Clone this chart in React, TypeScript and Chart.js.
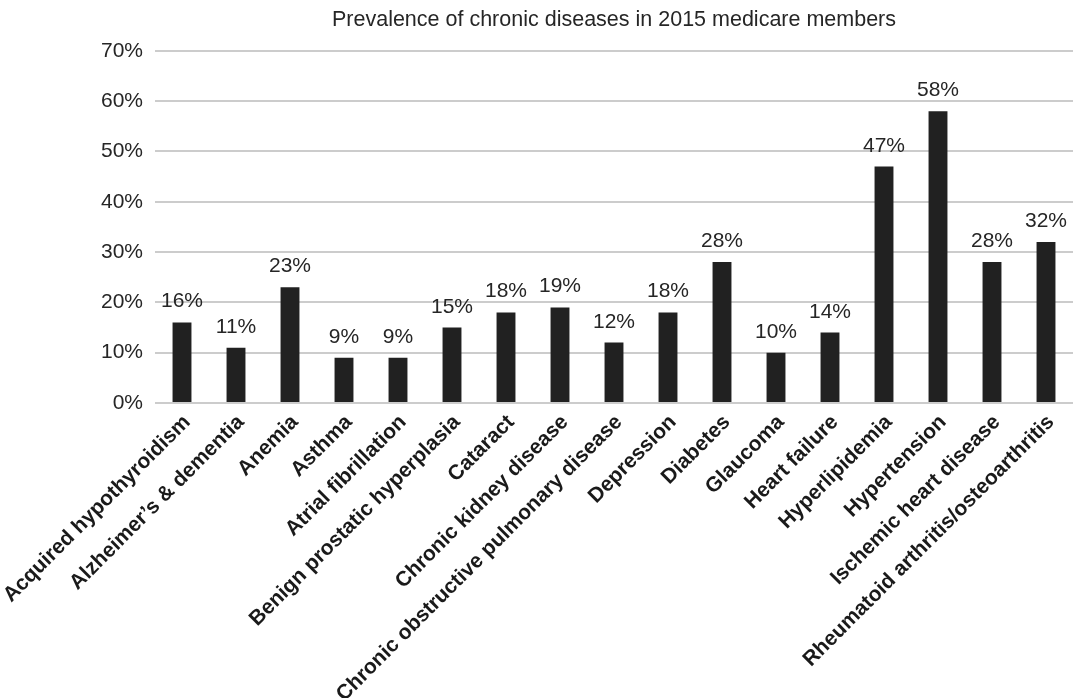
import React, { useEffect, useRef } from 'react';
import { Chart, registerables } from 'chart.js';

Chart.register(...registerables);

const titleText = 'Prevalence of chronic diseases in 2015 medicare members';

const categories = [
  'Acquired hypothyroidism',
  'Alzheimer\u2019s & dementia',
  'Anemia',
  'Asthma',
  'Atrial fibrillation',
  'Benign prostatic hyperplasia',
  'Cataract',
  'Chronic kidney disease',
  'Chronic obstructive pulmonary disease',
  'Depression',
  'Diabetes',
  'Glaucoma',
  'Heart failure',
  'Hyperlipidemia',
  'Hypertension',
  'Ischemic heart disease',
  'Rheumatoid arthritis/osteoarthritis',
];

const prevalence = [16, 11, 23, 9, 9, 15, 18, 19, 12, 18, 28, 10, 14, 47, 58, 28, 32];

const yMin = 0;
const yMax = 70;
const yStep = 10;

const FONT = '"Liberation Sans", Arial, Helvetica, sans-serif';

const valueLabels = {
  id: 'valueLabels',
  afterDatasetsDraw(chart: any) {
    const ctx = chart.ctx;
    const meta = chart.getDatasetMeta(0);
    ctx.save();
    ctx.font = `21px ${FONT}`;
    ctx.fillStyle = '#262626';
    ctx.textAlign = 'center';
    ctx.textBaseline = 'alphabetic';
    meta.data.forEach((bar: any, i: number) => {
      ctx.fillText(prevalence[i] + '%', bar.x, bar.y - 15);
    });
    ctx.restore();
  },
};

export default function App() {
  const canvasRef = useRef<HTMLCanvasElement | null>(null);

  useEffect(() => {
    if (!canvasRef.current) return;
    const chart = new Chart(canvasRef.current, {
      type: 'bar',
      data: {
        labels: categories,
        datasets: [
          {
            data: prevalence,
            backgroundColor: '#212121',
            borderWidth: 0,
            barPercentage: 0.7,
            categoryPercentage: 0.5,
          },
        ],
      },
      options: {
        responsive: true,
        maintainAspectRatio: false,
        animation: false,
        layout: { padding: { top: 0, right: 3, left: 0, bottom: 0 } },
        plugins: {
          legend: { display: false },
          tooltip: { enabled: false },
          title: {
            display: true,
            fullSize: false,
            text: titleText,
            color: '#262626',
            font: { family: FONT, size: 21.5, weight: 'normal' },
            padding: { top: 7, bottom: 18 },
          },
        },
        scales: {
          x: {
            grid: { display: false, drawTicks: false },
            border: { display: false },
            ticks: {
              autoSkip: false,
              maxRotation: 45,
              minRotation: 45,
              color: '#1a1a1a',
              font: { family: FONT, size: 21, weight: 'bold' },
              padding: 7,
              labelOffset: 5,
            },
            afterFit: (scale: any) => {
              scale.height = 295;
              scale.paddingLeft = 0;
              scale.paddingRight = 0;
            },
          },
          y: {
            min: yMin,
            max: yMax,
            grid: { color: '#cccccc', lineWidth: 2, drawTicks: false },
            border: { display: false },
            ticks: {
              stepSize: yStep,
              color: '#262626',
              font: { family: FONT, size: 21 },
              padding: 12,
              callback: (v: any) => v + '%',
            },
            afterFit: (scale: any) => {
              scale.width = 155;
            },
          },
        },
      },
      plugins: [valueLabels],
    });
    return () => chart.destroy();
  }, []);

  return (
    <div style={{ position: 'fixed', left: 0, top: 0, width: 1076, height: 698, background: '#fff' }}>
      <canvas ref={canvasRef} />
    </div>
  );
}
